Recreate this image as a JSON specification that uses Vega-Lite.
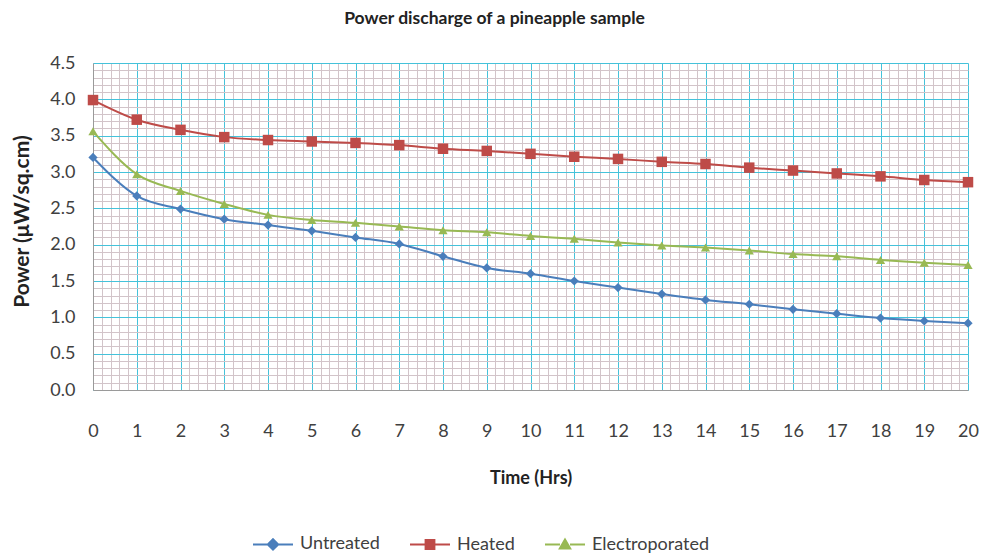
{
  "$schema": "https://vega.github.io/schema/vega-lite/v6.json",
  "width": 875,
  "height": 327,
  "autosize": "none",
  "padding": {"left": 93, "top": 63, "right": 14, "bottom": 166},
  "background": "white",
  "title": {
    "text": "Power discharge of a pineapple sample",
    "font": "Lato",
    "fontSize": 17.5,
    "fontWeight": "bold",
    "color": "#222222",
    "anchor": "middle",
    "dx": -36,
    "offset": 27
  },
  "config": {
    "view": {"stroke": null},
    "font": "Lato"
  },
  "data": {
    "values": [
      {"time": 0, "series": "Untreated", "power": 3.20},
      {"time": 1, "series": "Untreated", "power": 2.67},
      {"time": 2, "series": "Untreated", "power": 2.49},
      {"time": 3, "series": "Untreated", "power": 2.35},
      {"time": 4, "series": "Untreated", "power": 2.27},
      {"time": 5, "series": "Untreated", "power": 2.19},
      {"time": 6, "series": "Untreated", "power": 2.10},
      {"time": 7, "series": "Untreated", "power": 2.01},
      {"time": 8, "series": "Untreated", "power": 1.84},
      {"time": 9, "series": "Untreated", "power": 1.68},
      {"time": 10, "series": "Untreated", "power": 1.60},
      {"time": 11, "series": "Untreated", "power": 1.50},
      {"time": 12, "series": "Untreated", "power": 1.41},
      {"time": 13, "series": "Untreated", "power": 1.32},
      {"time": 14, "series": "Untreated", "power": 1.24},
      {"time": 15, "series": "Untreated", "power": 1.18},
      {"time": 16, "series": "Untreated", "power": 1.11},
      {"time": 17, "series": "Untreated", "power": 1.05},
      {"time": 18, "series": "Untreated", "power": 0.99},
      {"time": 19, "series": "Untreated", "power": 0.95},
      {"time": 20, "series": "Untreated", "power": 0.92},
      {"time": 0, "series": "Heated", "power": 3.99},
      {"time": 1, "series": "Heated", "power": 3.72},
      {"time": 2, "series": "Heated", "power": 3.58},
      {"time": 3, "series": "Heated", "power": 3.48},
      {"time": 4, "series": "Heated", "power": 3.44},
      {"time": 5, "series": "Heated", "power": 3.42},
      {"time": 6, "series": "Heated", "power": 3.40},
      {"time": 7, "series": "Heated", "power": 3.37},
      {"time": 8, "series": "Heated", "power": 3.32},
      {"time": 9, "series": "Heated", "power": 3.29},
      {"time": 10, "series": "Heated", "power": 3.25},
      {"time": 11, "series": "Heated", "power": 3.21},
      {"time": 12, "series": "Heated", "power": 3.18},
      {"time": 13, "series": "Heated", "power": 3.14},
      {"time": 14, "series": "Heated", "power": 3.11},
      {"time": 15, "series": "Heated", "power": 3.06},
      {"time": 16, "series": "Heated", "power": 3.02},
      {"time": 17, "series": "Heated", "power": 2.98},
      {"time": 18, "series": "Heated", "power": 2.94},
      {"time": 19, "series": "Heated", "power": 2.89},
      {"time": 20, "series": "Heated", "power": 2.86},
      {"time": 0, "series": "Electroporated", "power": 3.56},
      {"time": 1, "series": "Electroporated", "power": 2.97},
      {"time": 2, "series": "Electroporated", "power": 2.74},
      {"time": 3, "series": "Electroporated", "power": 2.56},
      {"time": 4, "series": "Electroporated", "power": 2.41},
      {"time": 5, "series": "Electroporated", "power": 2.34},
      {"time": 6, "series": "Electroporated", "power": 2.30},
      {"time": 7, "series": "Electroporated", "power": 2.25},
      {"time": 8, "series": "Electroporated", "power": 2.20},
      {"time": 9, "series": "Electroporated", "power": 2.17},
      {"time": 10, "series": "Electroporated", "power": 2.12},
      {"time": 11, "series": "Electroporated", "power": 2.08},
      {"time": 12, "series": "Electroporated", "power": 2.03},
      {"time": 13, "series": "Electroporated", "power": 1.99},
      {"time": 14, "series": "Electroporated", "power": 1.96},
      {"time": 15, "series": "Electroporated", "power": 1.92},
      {"time": 16, "series": "Electroporated", "power": 1.87},
      {"time": 17, "series": "Electroporated", "power": 1.84},
      {"time": 18, "series": "Electroporated", "power": 1.79},
      {"time": 19, "series": "Electroporated", "power": 1.75},
      {"time": 20, "series": "Electroporated", "power": 1.72}
    ]
  },
  "encoding": {
    "x": {
      "field": "time",
      "type": "quantitative",
      "scale": {"domain": [0, 20], "nice": false, "zero": false},
      "axis": {
        "title": "Time (Hrs)",
        "titleFont": "Lato",
        "titleFontSize": 18,
        "titleFontWeight": "bold",
        "titleColor": "#222222",
        "titlePadding": 29,
        "tickCount": 100,
        "labelExpr": "abs(datum.value - round(datum.value)) < 1e-6 ? format(datum.value, 'd') : ''",
        "labelOverlap": false,
        "labelFont": "Lato",
        "labelFontSize": 18,
        "labelColor": "#404040",
        "labelPadding": 32,
        "labelFlush": false,
        "ticks": false,
        "domain": true,
        "domainColor": "#9a9a9a",
        "domainWidth": 1,
        "grid": true,
        "gridColor": {"condition": {"test": "abs(datum.value - round(datum.value)) < 1e-6", "value": "#45c2da"}, "value": "#d2c4c9"},
        "gridWidth": 1,
        "gridOpacity": 1
      }
    },
    "y": {
      "field": "power",
      "type": "quantitative",
      "scale": {"domain": [0, 4.5], "nice": false},
      "axis": {
        "title": "Power (μW/sq.cm)",
        "titleFont": "Lato",
        "titleFontSize": 21,
        "titleFontWeight": "bold",
        "titleColor": "#222222",
        "titlePadding": 17,
        "titleY": 158,
        "tickCount": 45,
        "labelExpr": "abs(datum.value * 2 - round(datum.value * 2)) < 1e-6 ? format(datum.value, '.1f') : ''",
        "labelOverlap": false,
        "labelFont": "Lato",
        "labelFontSize": 18,
        "labelColor": "#404040",
        "labelPadding": 18,
        "labelFlush": false,
        "ticks": false,
        "domain": true,
        "domainColor": "#9a9a9a",
        "grid": true,
        "gridColor": {"condition": {"test": "abs(datum.value * 2 - round(datum.value * 2)) < 1e-6", "value": "#45c2da"}, "value": "#d2c4c9"},
        "gridWidth": 1,
        "gridOpacity": 1
      }
    },
    "color": {
      "field": "series",
      "type": "nominal",
      "scale": {"domain": ["Untreated", "Heated", "Electroporated"], "range": ["#4a7ebb", "#be4b48", "#98b954"]},
      "legend": {
        "title": null,
        "orient": "none",
        "legendX": 159,
        "legendY": 460,
        "direction": "horizontal",
        "labelFont": "Lato",
        "labelFontSize": 18,
        "labelColor": "#404040",
        "labelOffset": 6,
        "columnPadding": 26,
        "symbolSize": 1600,
        "symbolStrokeWidth": 2,
        "encode": {
          "symbols": {
            "update": {
              "shape": {"signal": "datum.value === 'Untreated' ? 'M-1,0H-0.25M0.25,0H1M0,-0.26L0.26,0L0,0.26L-0.26,0Z' : datum.value === 'Heated' ? 'M-1,0H-0.22M0.22,0H1M-0.22,-0.22H0.22V0.22H-0.22Z' : 'M-1,0H-0.25M0.25,0H1M0,-0.25L0.26,0.2L-0.26,0.2Z'"},
              "fill": {"scale": "color", "field": "value"},
              "stroke": {"scale": "color", "field": "value"},
              "strokeWidth": {"value": 2},
              "opacity": {"value": 1}
            }
          }
        }
      }
    }
  },
  "layer": [
    {
      "mark": {"type": "line", "interpolate": "monotone", "strokeWidth": 2},
      "encoding": {}
    },
    {
      "mark": {"type": "point", "filled": true, "opacity": 1},
      "encoding": {
        "shape": {
          "condition": [
            {"test": "datum.series === 'Heated'", "value": "square"},
            {"test": "datum.series === 'Electroporated'", "value": "triangle-up"}
          ],
          "value": "diamond"
        },
        "size": {
          "condition": [
            {"test": "datum.series === 'Heated'", "value": 110},
            {"test": "datum.series === 'Electroporated'", "value": 85}
          ],
          "value": 85
        }
      }
    }
  ]
}
